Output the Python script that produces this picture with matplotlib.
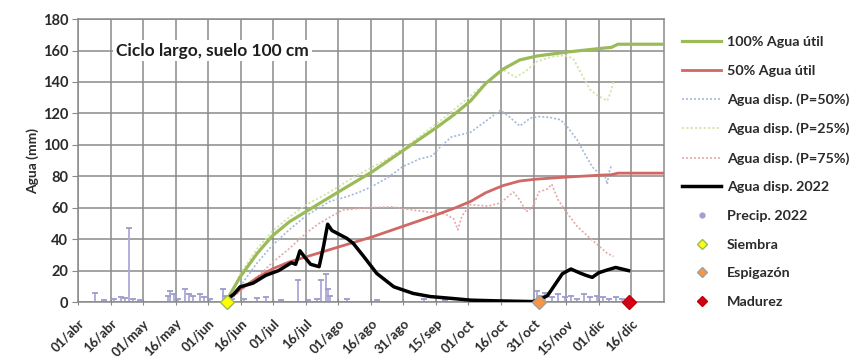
import matplotlib
matplotlib.use("Agg")
import matplotlib.pyplot as plt
from matplotlib.lines import Line2D

plt.rcParams['font.family'] = ['Lato', 'DejaVu Sans']

# x axis: days counted from 01/abr
tick_days = [i * 15.25 for i in range(18)]
tick_labels = ["01/abr", "16/abr", "01/may", "16/may", "01/jun", "16/jun",
               "01/jul", "16/jul", "01/ago", "16/ago", "31/ago", "15/sep",
               "01/oct", "16/oct", "31/oct", "15/nov", "01/dic", "16/dic"]

# 100% agua util (mm)
util_days = [70, 76, 84, 91, 99, 108, 122, 138, 153, 168, 176, 184, 191,
             199, 207, 215, 229, 246, 250, 253, 274]
util_vals = [2, 16, 31, 42, 51, 58.5, 70, 83, 97, 111, 119, 128, 139,
             148, 154, 156.5, 159, 161.5, 162, 164, 164]

# 50% agua util (mm)
half_days = [70, 76, 84, 91, 99, 108, 122, 138, 153, 168, 176, 184, 191,
             199, 207, 215, 229, 246, 250, 253, 274]
half_vals = [1, 8, 15.5, 21, 25.5, 29.2, 35, 41.5, 48.5, 55.5, 59.5, 64, 69.5,
             74, 77, 78.2, 79.5, 80.8, 81, 82, 82]

# available water, percentile 50
p50_days = [70, 76, 84, 91, 99, 107, 113, 118, 126, 132, 137, 145, 152, 160,
            166, 170, 175, 184, 191, 198, 202, 207, 212, 216, 221, 226, 229,
            234, 238, 241, 244, 247, 248, 249, 250]
p50_vals = [0, 10, 25, 36, 46, 55, 60, 64, 67, 70, 73, 79, 86, 91,
            93, 99, 105, 108, 115, 122, 118, 112, 117, 118, 117.5, 116, 112,
            103, 93, 86, 82, 80, 75, 83, 87]

# available water, percentile 25
p25_days = [70, 76, 84, 91, 99, 107, 118, 130, 145, 160, 175, 190, 199,
            205, 210, 215, 222, 228, 232, 236, 240, 244, 248, 250, 251]
p25_vals = [0, 18, 34, 45, 54, 62, 70, 80, 91, 105, 121, 138, 148,
            143, 147, 153, 156, 157, 155, 145, 135, 131, 128, 135, 141]

# available water, percentile 75
p75_days = [70, 76, 84, 91, 99, 107, 113, 118, 124, 135, 147, 157, 166,
            172, 176, 178, 180, 184, 188, 192, 198, 204, 207, 210, 213,
            216, 220, 222, 225, 229, 234, 238, 243, 248, 251]
p75_vals = [0, 7, 16, 25, 34, 44, 50, 54, 58.5, 60, 60.5, 58.5, 57,
            56, 53, 46, 55, 62, 61.5, 61, 63, 70, 65, 57.5, 60,
            70, 72, 75, 65, 57, 48, 43, 37, 31, 29]

# available water 2022
obs_days = [70, 73, 76, 82, 88, 94, 100, 102, 104, 106, 109, 113, 115,
            117, 119, 126, 129, 134, 140, 148, 157, 165, 176, 184, 195,
            205, 213, 216, 220, 223, 227, 231, 235, 238, 241, 244, 248,
            252, 255, 258]
obs_vals = [2, 5, 9.7, 12, 17, 20, 25, 24, 32.6, 29, 24, 22.5, 35,
            49.5, 45.5, 40.5, 37.3, 28.8, 18.2, 9.7, 5.5, 3.5, 2.2, 1.2, 0.8,
            0.5, 0.3, 1.5, 4, 10, 18, 21, 18.6, 17, 15.7, 18.6, 20.4,
            22, 21, 20]

# daily precipitation 2022 (mm)
rain_days = [8, 12, 17, 20, 22, 24, 26, 29, 42, 43, 45, 47, 50, 52, 54, 57,
             59, 62, 68, 69, 72, 78, 84, 88, 95, 103, 108, 112, 114, 116,
             117, 118, 126, 140, 162, 172, 215, 217, 219, 222, 225, 228,
             231, 234, 237, 240, 243, 246, 249, 252, 255]
rain_vals = [6, 1.5, 2, 3, 2.5, 47, 2, 1.5, 4, 7, 5, 2, 8, 5, 4, 5,
             3, 2, 8, 4, 2, 2, 2.5, 3.5, 1, 14, 1.5, 2, 14, 18,
             8, 4, 2, 1, 2, 1, 7, 4, 6, 3, 5, 3,
             4, 2, 5, 3, 4, 3, 2, 3, 2]

# crop stages
stage_names = ["Siembra", "Espigazón", "Madurez"]
stage_days = [70, 216, 258]

TXT = '#2a2a2a'

fig = plt.figure(figsize=(8.62, 3.60), dpi=100)
ax = fig.add_axes([0.0905, 0.161, 0.6795, 0.786])

ax.set_xlim(0, 274.5)
ax.set_ylim(0, 180)
ax.set_xticks(tick_days)
ax.set_xticklabels(tick_labels, rotation=45, ha='right', rotation_mode='anchor',
                   fontsize=9.5, fontweight='bold', color=TXT)
ax.set_yticks(range(0, 181, 20))
ax.tick_params(axis='y', labelsize=10.5, colors=TXT, length=4, color='#888888', pad=3)
for lab in ax.get_yticklabels():
    lab.set_fontweight('bold')
ax.tick_params(axis='x', length=4, color='#888888', pad=9, direction='inout')
ax.grid(True, color='#8a8a8a', linewidth=1.1)
ax.set_axisbelow(True)
for s in ax.spines.values():
    s.set_color('#8a8a8a')
    s.set_linewidth(1.1)
ax.set_ylabel("Agua (mm)", fontsize=10, fontweight='bold', color=TXT, labelpad=3)

# precipitation spikes
ax.vlines(rain_days, 0, rain_vals, color='#a9a9d8', linewidth=1.3, zorder=2)
ax.plot(rain_days, rain_vals, '_', color='#9c9ccc', markersize=5, markeredgewidth=1.3,
        zorder=2)

dot = (0, (1.2, 1.2))
ax.plot(p50_days, p50_vals, color='#a3b9dc', linestyle=dot, linewidth=1.2, zorder=3)
ax.plot(p25_days, p25_vals, color='#d3e3ad', linestyle=dot, linewidth=1.3, zorder=3)
ax.plot(p75_days, p75_vals, color='#e2aaa8', linestyle=dot, linewidth=1.2, zorder=3)
ax.plot(util_days, util_vals, color='#9bbb59', linewidth=2.3, zorder=4)
ax.plot(half_days, half_vals, color='#d06865', linewidth=2.0, zorder=4)
ax.plot(obs_days, obs_vals, color='black', linewidth=2.5, zorder=5)

stage_face = ['#ffff00', '#f79646', '#d0021b']
stage_edge = ['#9bbb59', '#a0a0a0', '#c00000']
for d, fc, ec in zip(stage_days, stage_face, stage_edge):
    ax.plot([d], [0], 'D', markersize=7.5, markerfacecolor=fc, markeredgecolor=ec,
            markeredgewidth=1, zorder=6, clip_on=False)

ax.text(63, 160, "Ciclo largo, suelo 100 cm", ha='center', va='center',
        fontsize=12.5, fontweight='bold', color='#1e1e1e',
        bbox=dict(facecolor='white', edgecolor='none', pad=2), zorder=7)

handles = [
    Line2D([], [], color='#9bbb59', linewidth=2.3),
    Line2D([], [], color='#d06865', linewidth=2.0),
    Line2D([], [], color='#a3b9dc', linestyle=dot, linewidth=1.2),
    Line2D([], [], color='#d3e3ad', linestyle=dot, linewidth=1.3),
    Line2D([], [], color='#e2aaa8', linestyle=dot, linewidth=1.2),
    Line2D([], [], color='black', linewidth=2.5),
    Line2D([], [], color='#a0a0d0', marker='o', linestyle='none', markersize=3.5),
    Line2D([], [], marker='D', linestyle='none', markersize=5, markerfacecolor='#ffff00',
           markeredgecolor='#9bbb59'),
    Line2D([], [], marker='D', linestyle='none', markersize=5, markerfacecolor='#f79646',
           markeredgecolor='#a0a0a0'),
    Line2D([], [], marker='D', linestyle='none', markersize=5, markerfacecolor='#d0021b',
           markeredgecolor='#c00000'),
]
labels = ["100% Agua útil", "50% Agua útil", "Agua disp. (P=50%)",
          "Agua disp. (P=25%)", "Agua disp. (P=75%)", "Agua disp. 2022",
          "Precip. 2022"] + stage_names
leg = fig.legend(handles, labels, loc='upper left', bbox_to_anchor=(0.785, 0.915),
                 frameon=False, handlelength=2.7, handletextpad=0.4,
                 labelspacing=1.16, borderaxespad=0.0,
                 prop={'weight': 'bold', 'size': 10.3})
for t in leg.get_texts():
    t.set_color(TXT)

fig.savefig("out.png", dpi=100)
